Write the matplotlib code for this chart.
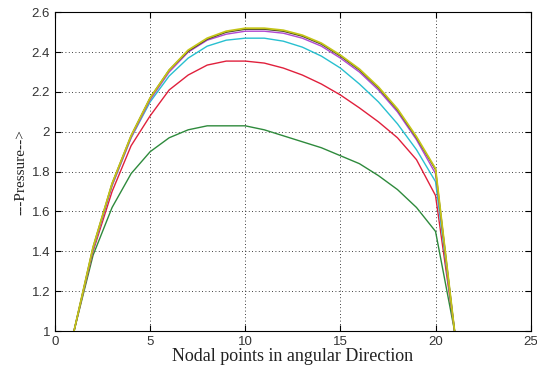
import numpy as np
import matplotlib
matplotlib.use("Agg")
import matplotlib.pyplot as plt

nodes = np.arange(1, 22)

p_green = [1.0, 1.38, 1.62, 1.79, 1.90, 1.97, 2.01, 2.03, 2.03, 2.03, 2.01, 1.98, 1.95,
           1.92, 1.88, 1.84, 1.78, 1.71, 1.62, 1.50, 1.0]
p_red = [1.0, 1.40, 1.70, 1.93, 2.08, 2.21, 2.285, 2.335, 2.355, 2.355, 2.345, 2.32, 2.285,
         2.24, 2.185, 2.12, 2.05, 1.97, 1.86, 1.68, 1.0]
p_cyan = [1.0, 1.41, 1.73, 1.97, 2.15, 2.28, 2.37, 2.43, 2.46, 2.47, 2.47, 2.455, 2.425,
          2.38, 2.32, 2.24, 2.15, 2.04, 1.91, 1.75, 1.0]
p_magenta = [1.0, 1.41, 1.73, 1.97, 2.16, 2.30, 2.40, 2.46, 2.49, 2.505, 2.505, 2.495, 2.47,
             2.43, 2.37, 2.30, 2.21, 2.10, 1.96, 1.79, 1.0]
p_black = [1.0, 1.42, 1.74, 1.98, 2.17, 2.31, 2.405, 2.465, 2.50, 2.515, 2.515, 2.505, 2.48,
           2.44, 2.38, 2.31, 2.22, 2.11, 1.97, 1.81, 1.0]
p_yellow = [1.0, 1.42, 1.74, 1.98, 2.17, 2.31, 2.41, 2.47, 2.505, 2.52, 2.52, 2.51, 2.485,
            2.445, 2.385, 2.315, 2.225, 2.115, 1.975, 1.815, 1.0]

fig = plt.figure(figsize=(5.37, 3.70), dpi=100)
ax = fig.add_axes([0.1024, 0.1054, 0.8858, 0.8614])

ax.plot(nodes, p_green, color="#2e8a3c", lw=1.0)
ax.plot(nodes, p_red, color="#e0203c", lw=1.0)
ax.plot(nodes, p_cyan, color="#28c0d0", lw=1.0)
ax.plot(nodes, p_magenta, color="#b048d0", lw=1.0)
ax.plot(nodes, p_black, color="#404020", lw=1.0)
ax.plot(nodes, p_yellow, color="#c4c418", lw=1.3)

ax.set_xlim(0, 25)
ax.set_ylim(1, 2.6)
ax.set_xticks([0, 5, 10, 15, 20, 25])
ax.set_yticks([1, 1.2, 1.4, 1.6, 1.8, 2, 2.2, 2.4, 2.6])
ax.set_yticklabels(["1", "1.2", "1.4", "1.6", "1.8", "2", "2.2", "2.4", "2.6"])
ax.grid(True, color="black", linestyle=(0, (1, 3)), linewidth=0.6)
ax.tick_params(direction="in", top=True, right=True, length=4, labelsize=9.5,
               labelcolor="#333333")
for lab in ax.get_xticklabels() + ax.get_yticklabels():
    lab.set_family("Liberation Sans")
for s in ax.spines.values():
    s.set_linewidth(0.8)

ax.set_xlabel("Nodal points in angular Direction", family="Liberation Serif",
              fontsize=13, labelpad=0, color="#222222")
ax.set_ylabel("---Pressure-->", family="Liberation Serif", fontsize=11, labelpad=3,
              color="#222222")

fig.savefig("out.png", dpi=100)
